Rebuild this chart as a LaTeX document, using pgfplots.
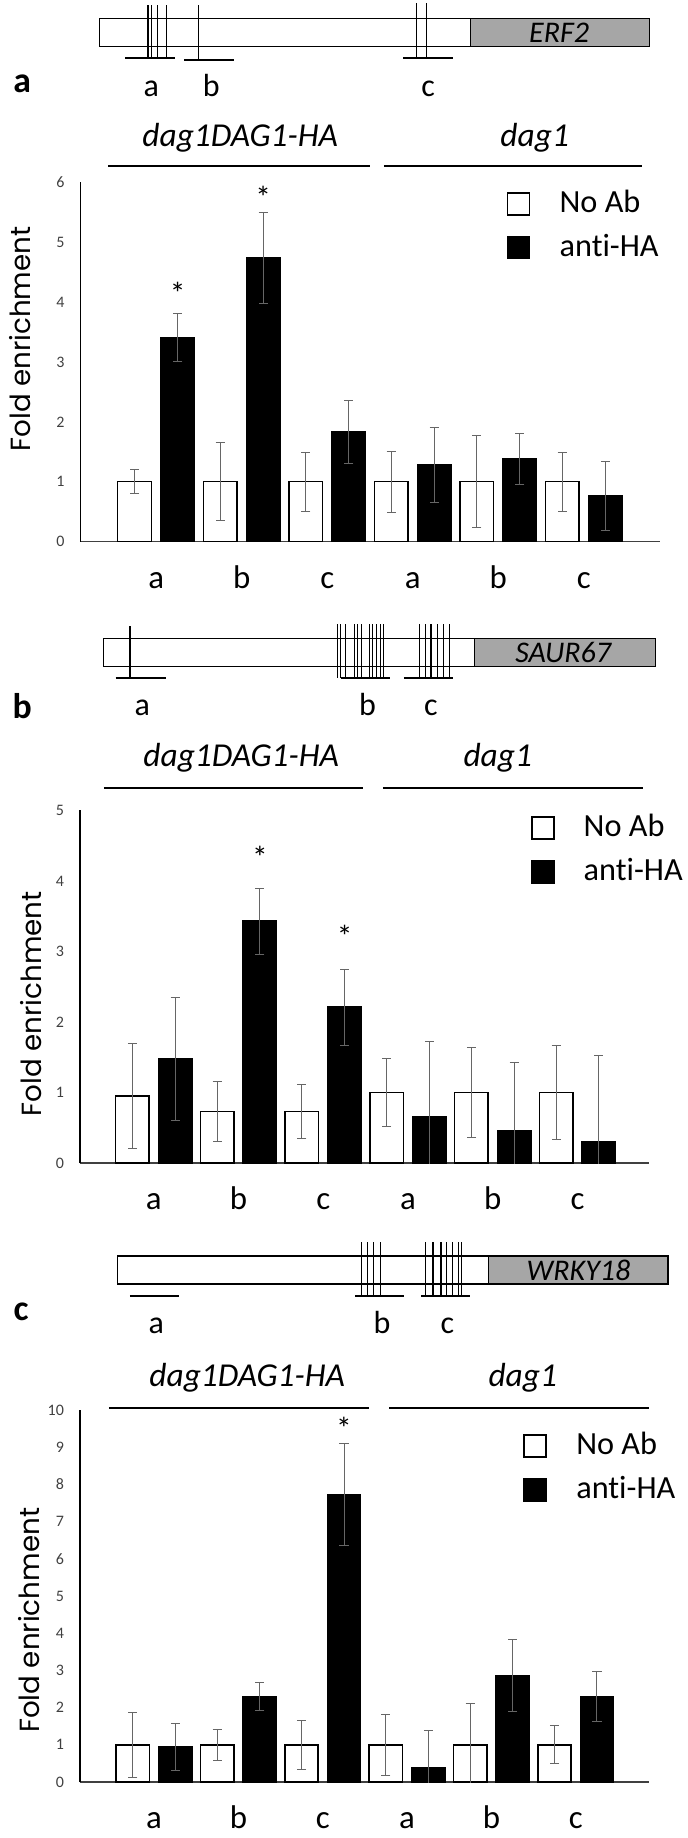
\documentclass[border=0pt]{standalone}
\usepackage{fontspec}
\setmainfont{Carlito}[Ligatures=NoCommon]
\newfontfamily\labelfont{Poppins}
\usepackage{pgfplots}
\pgfplotsset{compat=1.18}
\usepackage{pgfplotstable}

\definecolor{genegray}{HTML}{A6A6A6}
\definecolor{errgray}{HTML}{666666}
\definecolor{tickgray}{HTML}{404040}
\newcommand{\fs}[1]{\fontsize{#1}{#1}\selectfont}

% x = pair index, then No Ab and anti-HA with their errors
\pgfplotstableread{
x noab noaberr anti antierr
0 1.00 0.20 3.40 0.40
1 1.00 0.65 4.73 0.76
2 1.00 0.49 1.83 0.52
3 1.00 0.51 1.28 0.63
4 1.00 0.77 1.38 0.43
5 1.00 0.49 0.76 0.58
}\erftab
\pgfplotstableread{
x noab noaberr anti antierr
0 0.95 0.75 1.48 0.87
1 0.73 0.43 3.43 0.47
2 0.73 0.38 2.21 0.54
3 1.00 0.48 0.66 1.07
4 1.00 0.64 0.46 0.96
5 1.00 0.66 0.30 1.22
}\saurtab
\pgfplotstableread{
x noab noaberr anti antierr
0 1.00 0.87 0.95 0.63
1 1.00 0.41 2.30 0.38
2 1.00 0.65 7.73 1.37
3 1.00 0.82 0.38 1.00
4 1.00 1.10 2.86 0.97
5 1.00 0.51 2.30 0.66
}\wrkytab

\pgfplotsset{
  chip/.style={
    scale only axis, anchor=south west,
    ybar, bar width=0.395, ymin=0,
    axis x line=bottom, axis y line=left,
    axis line style={-, line width=0.5pt},
    x axis line style={draw=tickgray},
    major tick length=0pt,
    xtick={0,...,5}, xticklabels={a,b,c,a,b,c},
    x tick label style={font=\fs{11.5}, anchor=base, inner sep=0pt, yshift=-16.3pt},
    y tick label style={font=\fs{5.6}, text=tickgray, inner sep=0pt, xshift=-5.4pt},
    /pgf/number format/assume math mode=true,
    ylabel={Fold enrichment},
    clip mode=individual,
    legend cell align=left,
    legend style={draw=none, fill=none, anchor=north west, inner sep=0pt,
      font=\fs{11.3}, row sep=6pt, nodes={inner sep=0pt},
      /tikz/every odd column/.append style={column sep=10.2pt}},
    legend image code/.code={\draw[##1, line width=0.6pt] (0pt,-3.85pt) rectangle (7.7pt,3.85pt);},
    error bars/y dir=both, error bars/y explicit,
    error bars/error bar style={line width=0.35pt, draw=errgray},
    error bars/error mark options={rotate=90, mark size=1.6pt, line width=0.35pt, draw=errgray},
  },
  ylab/.style 2 args={every axis y label/.style={at={(axis description cs:#1,#2)},
    rotate=90, anchor=center, font=\labelfont\fs{9.7}}},
  noab/.style={draw=black, fill=white, line width=0.5pt, bar shift=-0.252},
  anti/.style={draw=black, fill=black, line width=0.5pt, bar shift=0.252},
}

\begin{document}
\begin{tikzpicture}
\begin{scope}[x=0.35pt, y=-0.35pt]
\path[use as bounding box] (0,0) rectangle (685,1838);
\coordinate (oa) at (78.3,541.7);
\coordinate (ob) at (77.7,1163);
\coordinate (oc) at (77.7,1782);

% ---- gene a: ERF2
\draw[line width=0.4pt] (97.3,18.3) rectangle (468.3,46.7);
\draw[line width=0.4pt, fill=genegray] (468.3,18.3) rectangle (647.3,46.7);
\node[font=\fs{10.5}\itshape] at (557,32.5) {ERF2};
\foreach \x in {145.7,149,155,164} \draw[line width=0.45pt] (\x,5) -- (\x,58.3);
\draw[line width=0.45pt] (196,5) -- (196,60);
\foreach \x in {414.3,424} \draw[line width=0.45pt] (\x,3.3) -- (\x,58.3);
\draw[line width=0.8pt] (123,58.3) -- (173,58.3);
\draw[line width=0.8pt] (182,60) -- (232,60);
\draw[line width=0.8pt] (401,58.3) -- (450.7,58.3);
\node[font=\fs{11.2}, anchor=base] at (149,96.7) {a};
\node[font=\fs{11.2}, anchor=base] at (209,96.7) {b};
\node[font=\fs{11.2}, anchor=base] at (426,96.7) {c};
\node[font=\fs{12.5}\bfseries, anchor=base] at (20,92) {a};
\node[font=\fs{11.7}\itshape, anchor=base] at (238,146.7) {dag1DAG1-HA};
\node[font=\fs{11.7}\itshape, anchor=base] at (532.5,146.7) {dag1};
\draw[line width=0.8pt] (106,165.7) -- (367.5,165.7);
\draw[line width=0.8pt] (381.6,165.7) -- (640,165.7);

% ---- gene b: SAUR67
\draw[line width=0.4pt] (101.7,638.3) rectangle (472.4,666.7);
\draw[line width=0.4pt, fill=genegray] (472.4,638.3) rectangle (653.5,666.7);
\node[font=\fs{10.5}\itshape] at (561,652.5) {SAUR67};
\draw[line width=0.45pt] (127.7,626) -- (127.7,678.3);
\foreach \x in {335,338.5,343,352,355,359,367,370,374.5,378,381}
  \draw[line width=0.45pt] (\x,624.3) -- (\x,678.3);
\foreach \x in {417,423,428.7,435.3,441,447.5}
  \draw[line width=0.45pt] (\x,624.3) -- (\x,678.3);
\draw[line width=0.8pt] (113.3,678.3) -- (163.3,678.3);
\draw[line width=0.8pt] (339,678.3) -- (388,678.3);
\draw[line width=0.8pt] (401.6,678.3) -- (450.6,678.3);
\node[font=\fs{11.2}, anchor=base] at (140,715) {a};
\node[font=\fs{11.2}, anchor=base] at (365.3,715) {b};
\node[font=\fs{11.2}, anchor=base] at (428.7,715) {c};
\node[font=\fs{12.5}\bfseries, anchor=base] at (20,718.3) {b};
\node[font=\fs{11.7}\itshape, anchor=base] at (239,766.7) {dag1DAG1-HA};
\node[font=\fs{11.7}\itshape, anchor=base] at (495.6,766.7) {dag1};
\draw[line width=0.8pt] (101.7,788.3) -- (361,788.3);
\draw[line width=0.8pt] (380.6,788.3) -- (640.9,788.3);

% ---- gene c: WRKY18
\draw[line width=0.4pt] (115,1256) rectangle (486.4,1284);
\draw[line width=0.4pt, fill=genegray] (486.4,1256) rectangle (665.8,1284);
\node[font=\fs{10.5}\itshape] at (576.3,1270) {WRKY18};
\foreach \x in {359.6,365.3,371,378}
  \draw[line width=0.45pt] (\x,1242) -- (\x,1296);
\foreach \x in {423.4,430.9,438.8,444,450.6,456.3,459.3}
  \draw[line width=0.45pt] (\x,1242) -- (\x,1296);
\draw[line width=0.8pt] (127.7,1296) -- (176.7,1296);
\draw[line width=0.8pt] (353,1296) -- (401.6,1296);
\draw[line width=0.8pt] (419,1296) -- (468,1296);
\node[font=\fs{11.2}, anchor=base] at (154,1333.3) {a};
\node[font=\fs{11.2}, anchor=base] at (379.7,1333.3) {b};
\node[font=\fs{11.2}, anchor=base] at (445.3,1333.3) {c};
\node[font=\fs{12.5}\bfseries, anchor=base] at (19,1320) {c};
\node[font=\fs{11.7}\itshape, anchor=base] at (245,1386.7) {dag1DAG1-HA};
\node[font=\fs{11.7}\itshape, anchor=base] at (520.6,1386.7) {dag1};
\draw[line width=0.8pt] (106.7,1408.3) -- (366.6,1408.3);
\draw[line width=0.8pt] (387,1408.3) -- (646.5,1408.3);
\end{scope}

% ---- chart a
\begin{axis}[chip, at={(oa)}, width=202.8pt, height=125.9pt,
  xmin=-0.885, xmax=5.89, ymax=6, ytick={0,...,6},
  legend style={at={(0.7347,0.978)}}, ylab={-0.1041}{0.5636}]
\addplot[noab] table[x=x, y=noab, y error=noaberr] {\erftab};
\addlegendentry{No Ab}
\addplot[anti] table[x=x, y=anti, y error=antierr] {\erftab};
\addlegendentry{anti-HA}
\node[font=\fs{11}] at (axis cs:0.252,4.15) {*};
\node[font=\fs{11}] at (axis cs:1.252,5.75) {*};
\end{axis}

% ---- chart b
\begin{axis}[chip, at={(ob)}, width=199.1pt, height=123.4pt,
  xmin=-0.871, xmax=5.84, ymax=5, ytick={0,...,5},
  legend style={at={(0.7917,0.990)}}, ylab={-0.0867}{0.452}]
\addplot[noab] table[x=x, y=noab, y error=noaberr] {\saurtab};
\addlegendentry{No Ab}
\addplot[anti] table[x=x, y=anti, y error=antierr] {\saurtab};
\addlegendentry{anti-HA}
\node[font=\fs{11}] at (axis cs:1.252,4.34) {*};
\node[font=\fs{11}] at (axis cs:2.252,3.21) {*};
\end{axis}

% ---- chart c
\begin{axis}[chip, at={(oc)}, width=199.1pt, height=130.2pt,
  xmin=-0.88, xmax=5.866, ymax=10, ytick={0,...,10},
  legend style={at={(0.7787,0.941)}}, ylab={-0.0891}{0.4347}]
\addplot[noab] table[x=x, y=noab, y error=noaberr] {\wrkytab};
\addlegendentry{No Ab}
\addplot[anti] table[x=x, y=anti, y error=antierr] {\wrkytab};
\addlegendentry{anti-HA}
\node[font=\fs{11}] at (axis cs:2.252,9.5) {*};
\end{axis}
\end{tikzpicture}
\end{document}
